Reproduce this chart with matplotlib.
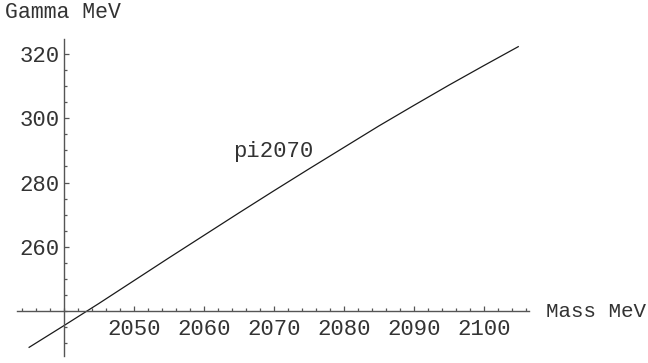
import matplotlib
matplotlib.use("Agg")
import matplotlib.pyplot as plt
from matplotlib.ticker import MultipleLocator

# Width of the pi(2070) state as a function of its mass
mass_mev = [2035, 2040, 2045, 2050, 2055, 2060, 2065, 2070,
            2075, 2080, 2085, 2090, 2095, 2100, 2105]
gamma_mev = [228.6, 235.4, 242.3, 249.4, 256.5, 263.5, 270.5, 277.4,
             284.2, 290.9, 297.6, 304.0, 310.3, 316.4, 322.4]

x_ticks = [2050, 2060, 2070, 2080, 2090, 2100]
y_ticks = [260, 280, 300, 320]
curve_label = "pi2070"
x_label = "Mass MeV"
y_label = "Gamma MeV"

W, H = 648, 363
fig = plt.figure(figsize=(W / 100, H / 100), dpi=100)

# axes box in pixel units (left, top, right, bottom)
L, T, R, B = 16.7, 39.3, 529.3, 356.0
ax = fig.add_axes([L / W, 1 - B / H, (R - L) / W, (B - T) / H])
ax.set_xlim(2033.3, 2106.5)
ax.set_ylim(226.0, 324.6)

mono = "Liberation Mono"
txt_color = "#333333"
axis_color = "#555555"

ax.plot(mass_mev, gamma_mev, color="#1a1a1a", lw=0.9, solid_capstyle="butt")

for side in ("top", "right"):
    ax.spines[side].set_visible(False)
ax.spines["left"].set_position(("data", 2040))
ax.spines["bottom"].set_position(("data", 240))
for side in ("left", "bottom"):
    ax.spines[side].set_color(axis_color)
    ax.spines[side].set_linewidth(1.0)

ax.set_xticks(x_ticks)
ax.set_yticks(y_ticks)
ax.xaxis.set_minor_locator(MultipleLocator(2))
ax.yaxis.set_minor_locator(MultipleLocator(5))
ax.tick_params(which="both", direction="in", color=axis_color, width=0.9)
ax.tick_params(which="major", length=3.5)
ax.tick_params(which="minor", length=2.0)
ax.tick_params(axis="x", which="major", pad=5.5)
ax.tick_params(axis="y", which="major", pad=3.0)
for lab in ax.get_xticklabels() + ax.get_yticklabels():
    lab.set_fontfamily(mono)
    lab.set_fontsize(16)
    lab.set_color(txt_color)

ax.text(2064.2, 288.1, curve_label, family=mono, fontsize=16,
        color=txt_color, ha="left", va="baseline")

fig.text(5 / W, 1 - 13 / H, y_label, family=mono, fontsize=15.5,
         color=txt_color, ha="left", va="center")
fig.text(546 / W, 1 - 311.5 / H, x_label, family=mono, fontsize=15,
         color=txt_color, ha="left", va="center")

fig.savefig("out.png", dpi=100)
